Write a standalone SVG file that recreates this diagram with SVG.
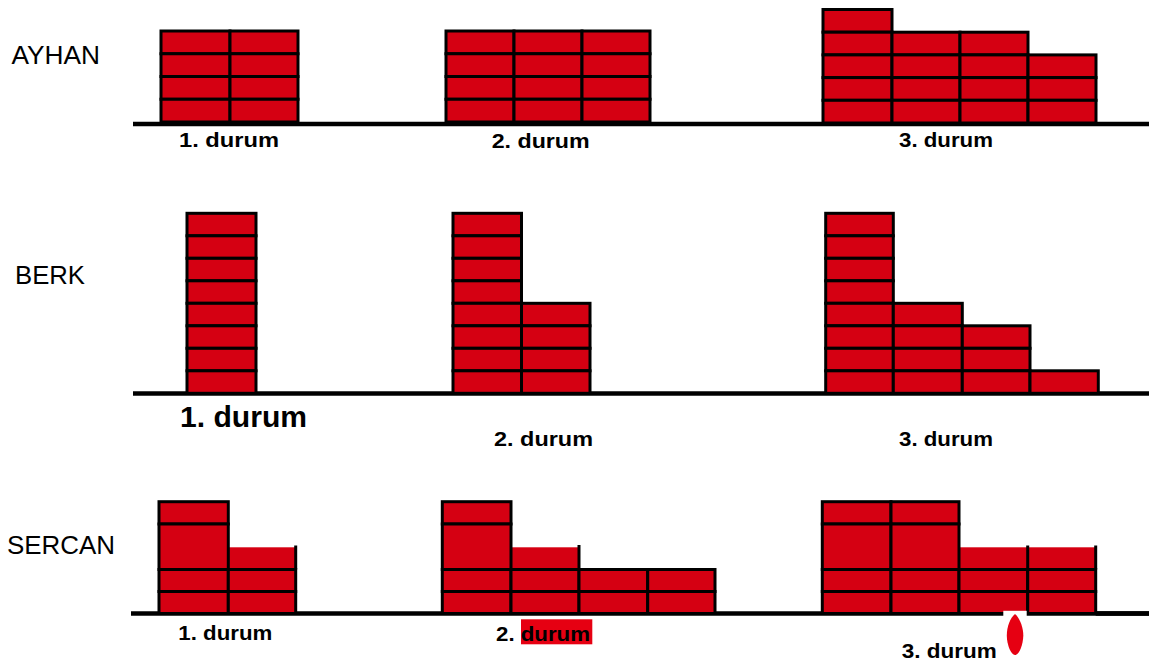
<svg xmlns="http://www.w3.org/2000/svg" width="1149" height="670" viewBox="0 0 1149 670">
<style>
.c{fill:#d50012;stroke:#000;stroke-width:3}
.f{fill:#d50012;stroke:none}
.l{stroke:#000;stroke-width:3;fill:none}
.g{stroke:#000;stroke-width:4.5;fill:none}
.n{font-family:"Liberation Sans",Arial,sans-serif;font-size:26px;fill:#000}
.d{font-family:"Liberation Sans",Arial,sans-serif;font-weight:bold;font-size:21px;fill:#000}
</style>
<rect x="0" y="0" width="1149" height="670" fill="#fff"/>
<g id="labels">
<text class="n" x="11.5" y="64" textLength="88.5" lengthAdjust="spacingAndGlyphs">AYHAN</text>
<text class="n" x="15" y="284" textLength="70" lengthAdjust="spacingAndGlyphs">BERK</text>
<text class="n" x="7" y="553.5" textLength="108" lengthAdjust="spacingAndGlyphs">SERCAN</text>
</g>
<g id="connectors">
<line class="g" x1="133" y1="124" x2="1149" y2="124"/>
<line class="g" x1="133" y1="393.5" x2="1149" y2="393.5"/>
<line class="g" x1="131" y1="613.5" x2="1149" y2="613.5"/>
</g>
<g id="ayhan-1">
<rect class="c" x="161" y="31" width="69" height="22.75"/><rect class="c" x="230" y="31" width="68" height="22.75"/>
<rect class="c" x="161" y="53.75" width="69" height="22.75"/><rect class="c" x="230" y="53.75" width="68" height="22.75"/>
<rect class="c" x="161" y="76.5" width="69" height="22.75"/><rect class="c" x="230" y="76.5" width="68" height="22.75"/>
<rect class="c" x="161" y="99.25" width="69" height="22.75"/><rect class="c" x="230" y="99.25" width="68" height="22.75"/>
<text class="d" x="179" y="146.5" textLength="100" lengthAdjust="spacingAndGlyphs">1. durum</text>
</g>
<g id="ayhan-2">
<rect class="c" x="446" y="31" width="68" height="22.75"/><rect class="c" x="514" y="31" width="68" height="22.75"/><rect class="c" x="582" y="31" width="68" height="22.75"/>
<rect class="c" x="446" y="53.75" width="68" height="22.75"/><rect class="c" x="514" y="53.75" width="68" height="22.75"/><rect class="c" x="582" y="53.75" width="68" height="22.75"/>
<rect class="c" x="446" y="76.5" width="68" height="22.75"/><rect class="c" x="514" y="76.5" width="68" height="22.75"/><rect class="c" x="582" y="76.5" width="68" height="22.75"/>
<rect class="c" x="446" y="99.25" width="68" height="22.75"/><rect class="c" x="514" y="99.25" width="68" height="22.75"/><rect class="c" x="582" y="99.25" width="68" height="22.75"/>
<text class="d" x="491.7" y="148" textLength="98" lengthAdjust="spacingAndGlyphs">2. durum</text>
</g>
<g id="ayhan-3">
<rect class="c" x="823" y="9.5" width="69" height="22.7"/>
<rect class="c" x="823" y="32.2" width="69" height="22.7"/><rect class="c" x="892" y="32.2" width="68" height="22.7"/><rect class="c" x="960" y="32.2" width="68" height="22.7"/>
<rect class="c" x="823" y="54.9" width="69" height="22.7"/><rect class="c" x="892" y="54.9" width="68" height="22.7"/><rect class="c" x="960" y="54.9" width="68" height="22.7"/><rect class="c" x="1028" y="54.9" width="68" height="22.7"/>
<rect class="c" x="823" y="77.6" width="69" height="22.7"/><rect class="c" x="892" y="77.6" width="68" height="22.7"/><rect class="c" x="960" y="77.6" width="68" height="22.7"/><rect class="c" x="1028" y="77.6" width="68" height="22.7"/>
<rect class="c" x="823" y="100.3" width="69" height="22.7"/><rect class="c" x="892" y="100.3" width="68" height="22.7"/><rect class="c" x="960" y="100.3" width="68" height="22.7"/><rect class="c" x="1028" y="100.3" width="68" height="22.7"/>
<text class="d" x="899" y="146.7" textLength="94" lengthAdjust="spacingAndGlyphs">3. durum</text>
</g>
<g id="berk-1">
<rect class="c" x="187" y="213.3" width="69" height="22.5"/>
<rect class="c" x="187" y="235.8" width="69" height="22.5"/>
<rect class="c" x="187" y="258.3" width="69" height="22.5"/>
<rect class="c" x="187" y="280.8" width="69" height="22.5"/>
<rect class="c" x="187" y="303.3" width="69" height="22.5"/>
<rect class="c" x="187" y="325.8" width="69" height="22.5"/>
<rect class="c" x="187" y="348.3" width="69" height="22.5"/>
<rect class="c" x="187" y="370.8" width="69" height="22.5"/>
<text class="d" x="180" y="427" style="font-size:30px" textLength="127" lengthAdjust="spacingAndGlyphs">1. durum</text>
</g>
<g id="berk-2">
<rect class="c" x="453" y="213.3" width="68.5" height="22.5"/>
<rect class="c" x="453" y="235.8" width="68.5" height="22.5"/>
<rect class="c" x="453" y="258.3" width="68.5" height="22.5"/>
<rect class="c" x="453" y="280.8" width="68.5" height="22.5"/>
<rect class="c" x="453" y="303.3" width="68.5" height="22.5"/><rect class="c" x="521.5" y="303.3" width="68.5" height="22.5"/>
<rect class="c" x="453" y="325.8" width="68.5" height="22.5"/><rect class="c" x="521.5" y="325.8" width="68.5" height="22.5"/>
<rect class="c" x="453" y="348.3" width="68.5" height="22.5"/><rect class="c" x="521.5" y="348.3" width="68.5" height="22.5"/>
<rect class="c" x="453" y="370.8" width="68.5" height="22.5"/><rect class="c" x="521.5" y="370.8" width="68.5" height="22.5"/>
<text class="d" x="494" y="446" textLength="99" lengthAdjust="spacingAndGlyphs">2. durum</text>
</g>
<g id="berk-3">
<rect class="c" x="825.7" y="213.3" width="67.6" height="22.5"/>
<rect class="c" x="825.7" y="235.8" width="67.6" height="22.5"/>
<rect class="c" x="825.7" y="258.3" width="67.6" height="22.5"/>
<rect class="c" x="825.7" y="280.8" width="67.6" height="22.5"/>
<rect class="c" x="825.7" y="303.3" width="67.6" height="22.5"/><rect class="c" x="893.3" y="303.3" width="69" height="22.5"/>
<rect class="c" x="825.7" y="325.8" width="67.6" height="22.5"/><rect class="c" x="893.3" y="325.8" width="69" height="22.5"/><rect class="c" x="962.3" y="325.8" width="67.7" height="22.5"/>
<rect class="c" x="825.7" y="348.3" width="67.6" height="22.5"/><rect class="c" x="893.3" y="348.3" width="69" height="22.5"/><rect class="c" x="962.3" y="348.3" width="67.7" height="22.5"/>
<rect class="c" x="825.7" y="370.8" width="67.6" height="22.5"/><rect class="c" x="893.3" y="370.8" width="69" height="22.5"/><rect class="c" x="962.3" y="370.8" width="67.7" height="22.5"/><rect class="c" x="1030" y="370.8" width="68.3" height="22.5"/>
<text class="d" x="899" y="446" textLength="94" lengthAdjust="spacingAndGlyphs">3. durum</text>
</g>
<g id="sercan-1">
<rect class="f" x="228.3" y="547.3" width="67.4" height="22.2"/>
<line class="l" x1="295.7" y1="545.5" x2="295.7" y2="569.5"/>
<rect class="c" x="159" y="501.7" width="69.3" height="22.3"/>
<rect class="c" x="159" y="524" width="69.3" height="45.5"/>
<rect class="c" x="159" y="569.5" width="69.3" height="22"/><rect class="c" x="228.3" y="569.5" width="67.4" height="22"/>
<rect class="c" x="159" y="591.5" width="69.3" height="22"/><rect class="c" x="228.3" y="591.5" width="67.4" height="22"/>
<text class="d" x="178.3" y="640" textLength="94" lengthAdjust="spacingAndGlyphs">1. durum</text>
</g>
<g id="sercan-2">
<rect class="f" x="511" y="547.3" width="68" height="22.2"/>
<line class="l" x1="579" y1="545" x2="579" y2="569.5"/>
<rect class="c" x="442.3" y="501.7" width="68.7" height="22.3"/>
<rect class="c" x="442.3" y="524" width="68.7" height="45.5"/>
<rect class="c" x="442.3" y="569.5" width="68.7" height="22"/><rect class="c" x="511" y="569.5" width="68" height="22"/><rect class="c" x="579" y="569.5" width="68.7" height="22"/><rect class="c" x="647.7" y="569.5" width="67.3" height="22"/>
<rect class="c" x="442.3" y="591.5" width="68.7" height="22"/><rect class="c" x="511" y="591.5" width="68" height="22"/><rect class="c" x="579" y="591.5" width="68.7" height="22"/><rect class="c" x="647.7" y="591.5" width="67.3" height="22"/>
<rect x="521" y="619.3" width="71.3" height="25" fill="#e60012"/>
<text class="d" x="496" y="641" textLength="94" lengthAdjust="spacingAndGlyphs">2. durum</text>
</g>
<g id="sercan-3">
<rect class="f" x="959" y="547.3" width="136.7" height="22.2"/>
<line class="l" x1="1027.7" y1="545.5" x2="1027.7" y2="569.5"/>
<line class="l" x1="1095.7" y1="545.5" x2="1095.7" y2="569.5"/>
<rect class="c" x="822.3" y="501.7" width="68.7" height="22.3"/><rect class="c" x="891" y="501.7" width="68" height="22.3"/>
<rect class="c" x="822.3" y="524" width="68.7" height="45.5"/><rect class="c" x="891" y="524" width="68" height="45.5"/>
<rect class="c" x="822.3" y="569.5" width="68.7" height="22"/><rect class="c" x="891" y="569.5" width="68" height="22"/><rect class="c" x="959" y="569.5" width="68.7" height="22"/><rect class="c" x="1027.7" y="569.5" width="68" height="22"/>
<rect class="c" x="822.3" y="591.5" width="68.7" height="22"/><rect class="c" x="891" y="591.5" width="68" height="22"/><rect class="c" x="959" y="591.5" width="68.7" height="22"/><rect class="c" x="1027.7" y="591.5" width="68" height="22"/>
<line class="g" x1="1095.7" y1="613.5" x2="1149" y2="613.5"/>
<rect x="1003.3" y="610.8" width="23.4" height="7.5" fill="#fff"/>
<path d="M1015,614 C1020,618 1023.5,628 1023.3,636 C1023,645 1019,655 1015,655 C1011,655 1007,645 1006.8,636 C1006.7,627 1010,618 1015,614 Z" fill="#e60012"/>
<text class="d" x="901.7" y="657.7" textLength="95" lengthAdjust="spacingAndGlyphs">3. durum</text>
</g>
</svg>
